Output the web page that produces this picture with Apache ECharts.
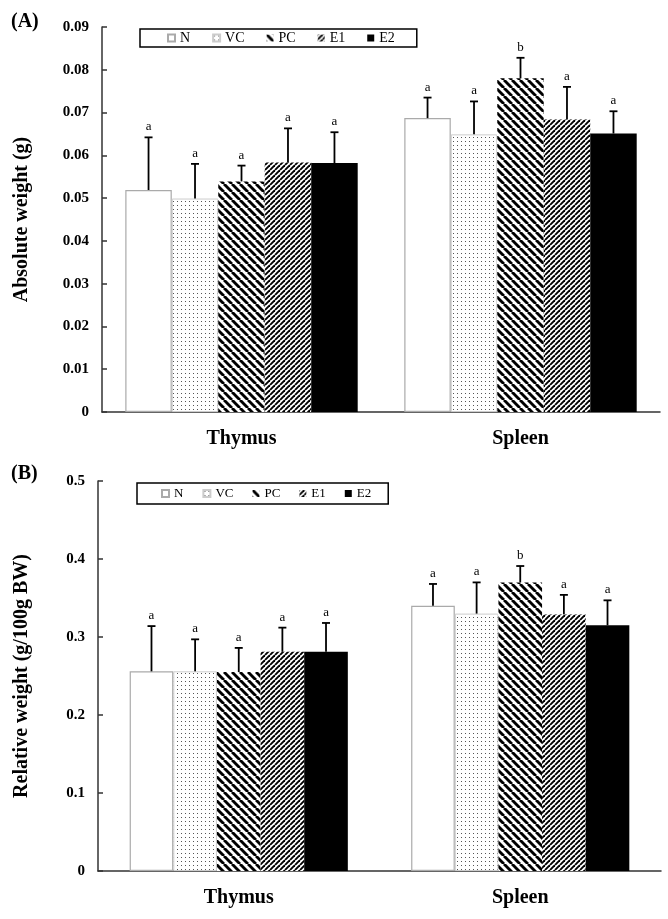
<!DOCTYPE html>
<html>
<head>
<meta charset="utf-8">
<script src="https://cdn.jsdelivr.net/npm/echarts@6/dist/echarts.min.js"></script>
<style>
html, body { margin: 0; padding: 0; background: #fff; }
#main { width: 668px; height: 919px; }
</style>
</head>
<body>
<div id="main"></div>
<script>
var organs = ['Thymus', 'Spleen'];
var groups = ['N', 'VC', 'PC', 'E1', 'E2'];

// (A) absolute weight (g): [Thymus, Spleen]
var absN  = [0.0519, 0.0687];
var absVC = [0.0499, 0.0649];
var absPC = [0.0539, 0.0780];
var absE1 = [0.0583, 0.0684];
var absE2 = [0.0582, 0.0651];
// SD (error bar length)
var absSdN  = [0.0123, 0.0048];
var absSdVC = [0.0081, 0.0077];
var absSdPC = [0.0037, 0.0048];
var absSdE1 = [0.0080, 0.0076];
var absSdE2 = [0.0072, 0.0052];
var absLetters = [['a', 'a'], ['a', 'a'], ['a', 'b'], ['a', 'a'], ['a', 'a']];
var absTicks = [0, 0.01, 0.02, 0.03, 0.04, 0.05, 0.06, 0.07, 0.08, 0.09];

// (B) relative weight (g/100g BW)
var relN  = [0.256, 0.340];
var relVC = [0.256, 0.330];
var relPC = [0.255, 0.370];
var relE1 = [0.281, 0.329];
var relE2 = [0.281, 0.315];
var relSdN  = [0.058, 0.028];
var relSdVC = [0.041, 0.040];
var relSdPC = [0.031, 0.021];
var relSdE1 = [0.031, 0.025];
var relSdE2 = [0.037, 0.032];
var relLetters = [['a', 'a'], ['a', 'a'], ['a', 'b'], ['a', 'a'], ['a', 'a']];
var relTicks = [0, 0.1, 0.2, 0.3, 0.4, 0.5];

var serif = '"Liberation Serif", "Times New Roman", serif';

// 填充图案
function stripes(size, lw, dir) {
  var c = document.createElement('canvas');
  c.width = c.height = size;
  var g = c.getContext('2d');
  g.fillStyle = '#fff';
  g.fillRect(0, 0, size, size);
  g.strokeStyle = '#000';
  g.lineWidth = lw;
  for (var k = -1; k <= 1; k++) {
    g.beginPath();
    if (dir === 'down') { g.moveTo(k * size, 0); g.lineTo(k * size + size, size); }
    else { g.moveTo(k * size, size); g.lineTo(k * size + size, 0); }
    g.stroke();
  }
  return { image: c, repeat: 'repeat' };
}
function dots() {
  var c = document.createElement('canvas');
  c.width = c.height = 4;
  var g = c.getContext('2d');
  g.fillStyle = '#fff';
  g.fillRect(0, 0, 4, 4);
  g.fillStyle = '#555';
  g.fillRect(1, 1, 1, 1);
  return { image: c, repeat: 'repeat' };
}

var styles = [
  { color: '#fff', borderColor: '#aaa', borderWidth: 1.2 },
  { color: dots(), borderColor: '#ccc', borderWidth: 1 },
  { color: stripes(8, 2.9, 'down'), borderWidth: 0 },
  { color: stripes(5, 1.9, 'up'), borderWidth: 0 },
  { color: '#000', borderWidth: 0 }
];

function errRender(gap, letters) {
  return function (params, api) {
    var c = api.value(0), m = api.value(1), sd = api.value(2), gi = api.value(3);
    var base = api.coord([c, m]);
    var top = api.coord([c, m + sd]);
    var band = api.size([1, 0])[0];
    var bw = band * (1 - gap) / 5;
    var x = base[0] + (gi - 2) * bw;
    return {
      type: 'group',
      children: [
        { type: 'line', shape: { x1: x, y1: base[1], x2: x, y2: top[1] }, style: { stroke: '#000', lineWidth: 1.8 } },
        { type: 'line', shape: { x1: x - 4, y1: top[1], x2: x + 4, y2: top[1] }, style: { stroke: '#000', lineWidth: 1.8 } },
        { type: 'text', style: { text: letters[gi][c], x: x, y: top[1] - 4, align: 'center', verticalAlign: 'bottom', font: '13px ' + serif, fill: '#000' } }
      ]
    };
  };
}

function buildSeries(means, sds, letters, gap, idx) {
  var out = [];
  var err = [];
  for (var i = 0; i < groups.length; i++) {
    out.push({
      name: groups[i], type: 'bar', xAxisIndex: idx, yAxisIndex: idx,
      barGap: 0, barCategoryGap: (gap * 100) + '%',
      itemStyle: styles[i], data: means[i], silent: true
    });
    for (var j = 0; j < organs.length; j++) err.push([j, means[i][j], sds[i][j], i]);
  }
  out.push({
    type: 'custom', name: 'err' + idx, xAxisIndex: idx, yAxisIndex: idx, z: 10, clip: false,
    renderItem: errRender(gap, letters), data: err, silent: true
  });
  return out;
}

var gapA = 0.167, gapB = 0.225;
var series = buildSeries([absN, absVC, absPC, absE1, absE2], [absSdN, absSdVC, absSdPC, absSdE1, absSdE2], absLetters, gapA, 0)
  .concat(buildSeries([relN, relVC, relPC, relE1, relE2], [relSdN, relSdVC, relSdPC, relSdE1, relSdE2], relLetters, gapB, 1));

function xAx(idx) {
  return {
    type: 'category', gridIndex: idx, data: organs,
    axisLine: { lineStyle: { color: '#333', width: 1.5 } },
    axisTick: { inside: true, length: 5, lineStyle: { color: '#333', width: 1.5 } },
    axisLabel: { color: '#000', fontFamily: serif, fontWeight: 'bold', fontSize: 20, margin: 17 }
  };
}
function yAx(idx, ticks, name, dec, gap) {
  return {
    type: 'value', gridIndex: idx, min: ticks[0], max: ticks[ticks.length - 1], interval: ticks[1] - ticks[0],
    name: name, nameLocation: 'middle', nameGap: gap,
    nameTextStyle: { color: '#000', fontFamily: serif, fontWeight: 'bold', fontSize: 20 },
    axisLine: { show: true, lineStyle: { color: '#333', width: 1.5 } },
    axisTick: { show: true, inside: true, length: 5, lineStyle: { color: '#333', width: 1.5 } },
    splitLine: { show: false },
    axisLabel: {
      color: '#000', fontFamily: serif, fontWeight: 'bold', fontSize: 15, margin: 13,
      formatter: function (v) { return v === 0 ? '0' : v.toFixed(dec); }
    }
  };
}
function legend(idx, left, top, pad, size, gap) {
  return {
    data: groups, left: left, top: top, orient: 'horizontal', icon: 'rect',
    itemWidth: 7, itemHeight: 7, itemGap: gap, padding: pad,
    borderColor: '#000', borderWidth: 1.5, backgroundColor: '#fff',
    textStyle: { color: '#000', fontFamily: serif, fontSize: size },
    selectedMode: false
  };
}

var myChart = echarts.init(document.getElementById('main'));
var option = {
  animation: false,
  backgroundColor: '#fff',
  grid: [
    { left: 102, top: 27, width: 558, height: 385 },
    { left: 98, top: 481, width: 563, height: 390 }
  ],
  xAxis: [xAx(0), xAx(1)],
  yAxis: [
    yAx(0, absTicks, 'Absolute weight (g)', 2, 70),
    yAx(1, relTicks, 'Relative weight (g/100g BW)', 1, 66)
  ],
  legend: [
    legend(0, 140, 29, [2, 22, 2, 27], 14, 22),
    legend(1, 137, 483, [4, 17, 4, 24], 13, 19)
  ],
  graphic: [
    { type: 'text', left: 11, top: 12, style: { text: '(A)', font: 'bold 20px ' + serif, fill: '#000' } },
    { type: 'text', left: 11, top: 464, style: { text: '(B)', font: 'bold 20px ' + serif, fill: '#000' } }
  ],
  series: series
};
myChart.setOption(option);
</script>
</body>
</html>
